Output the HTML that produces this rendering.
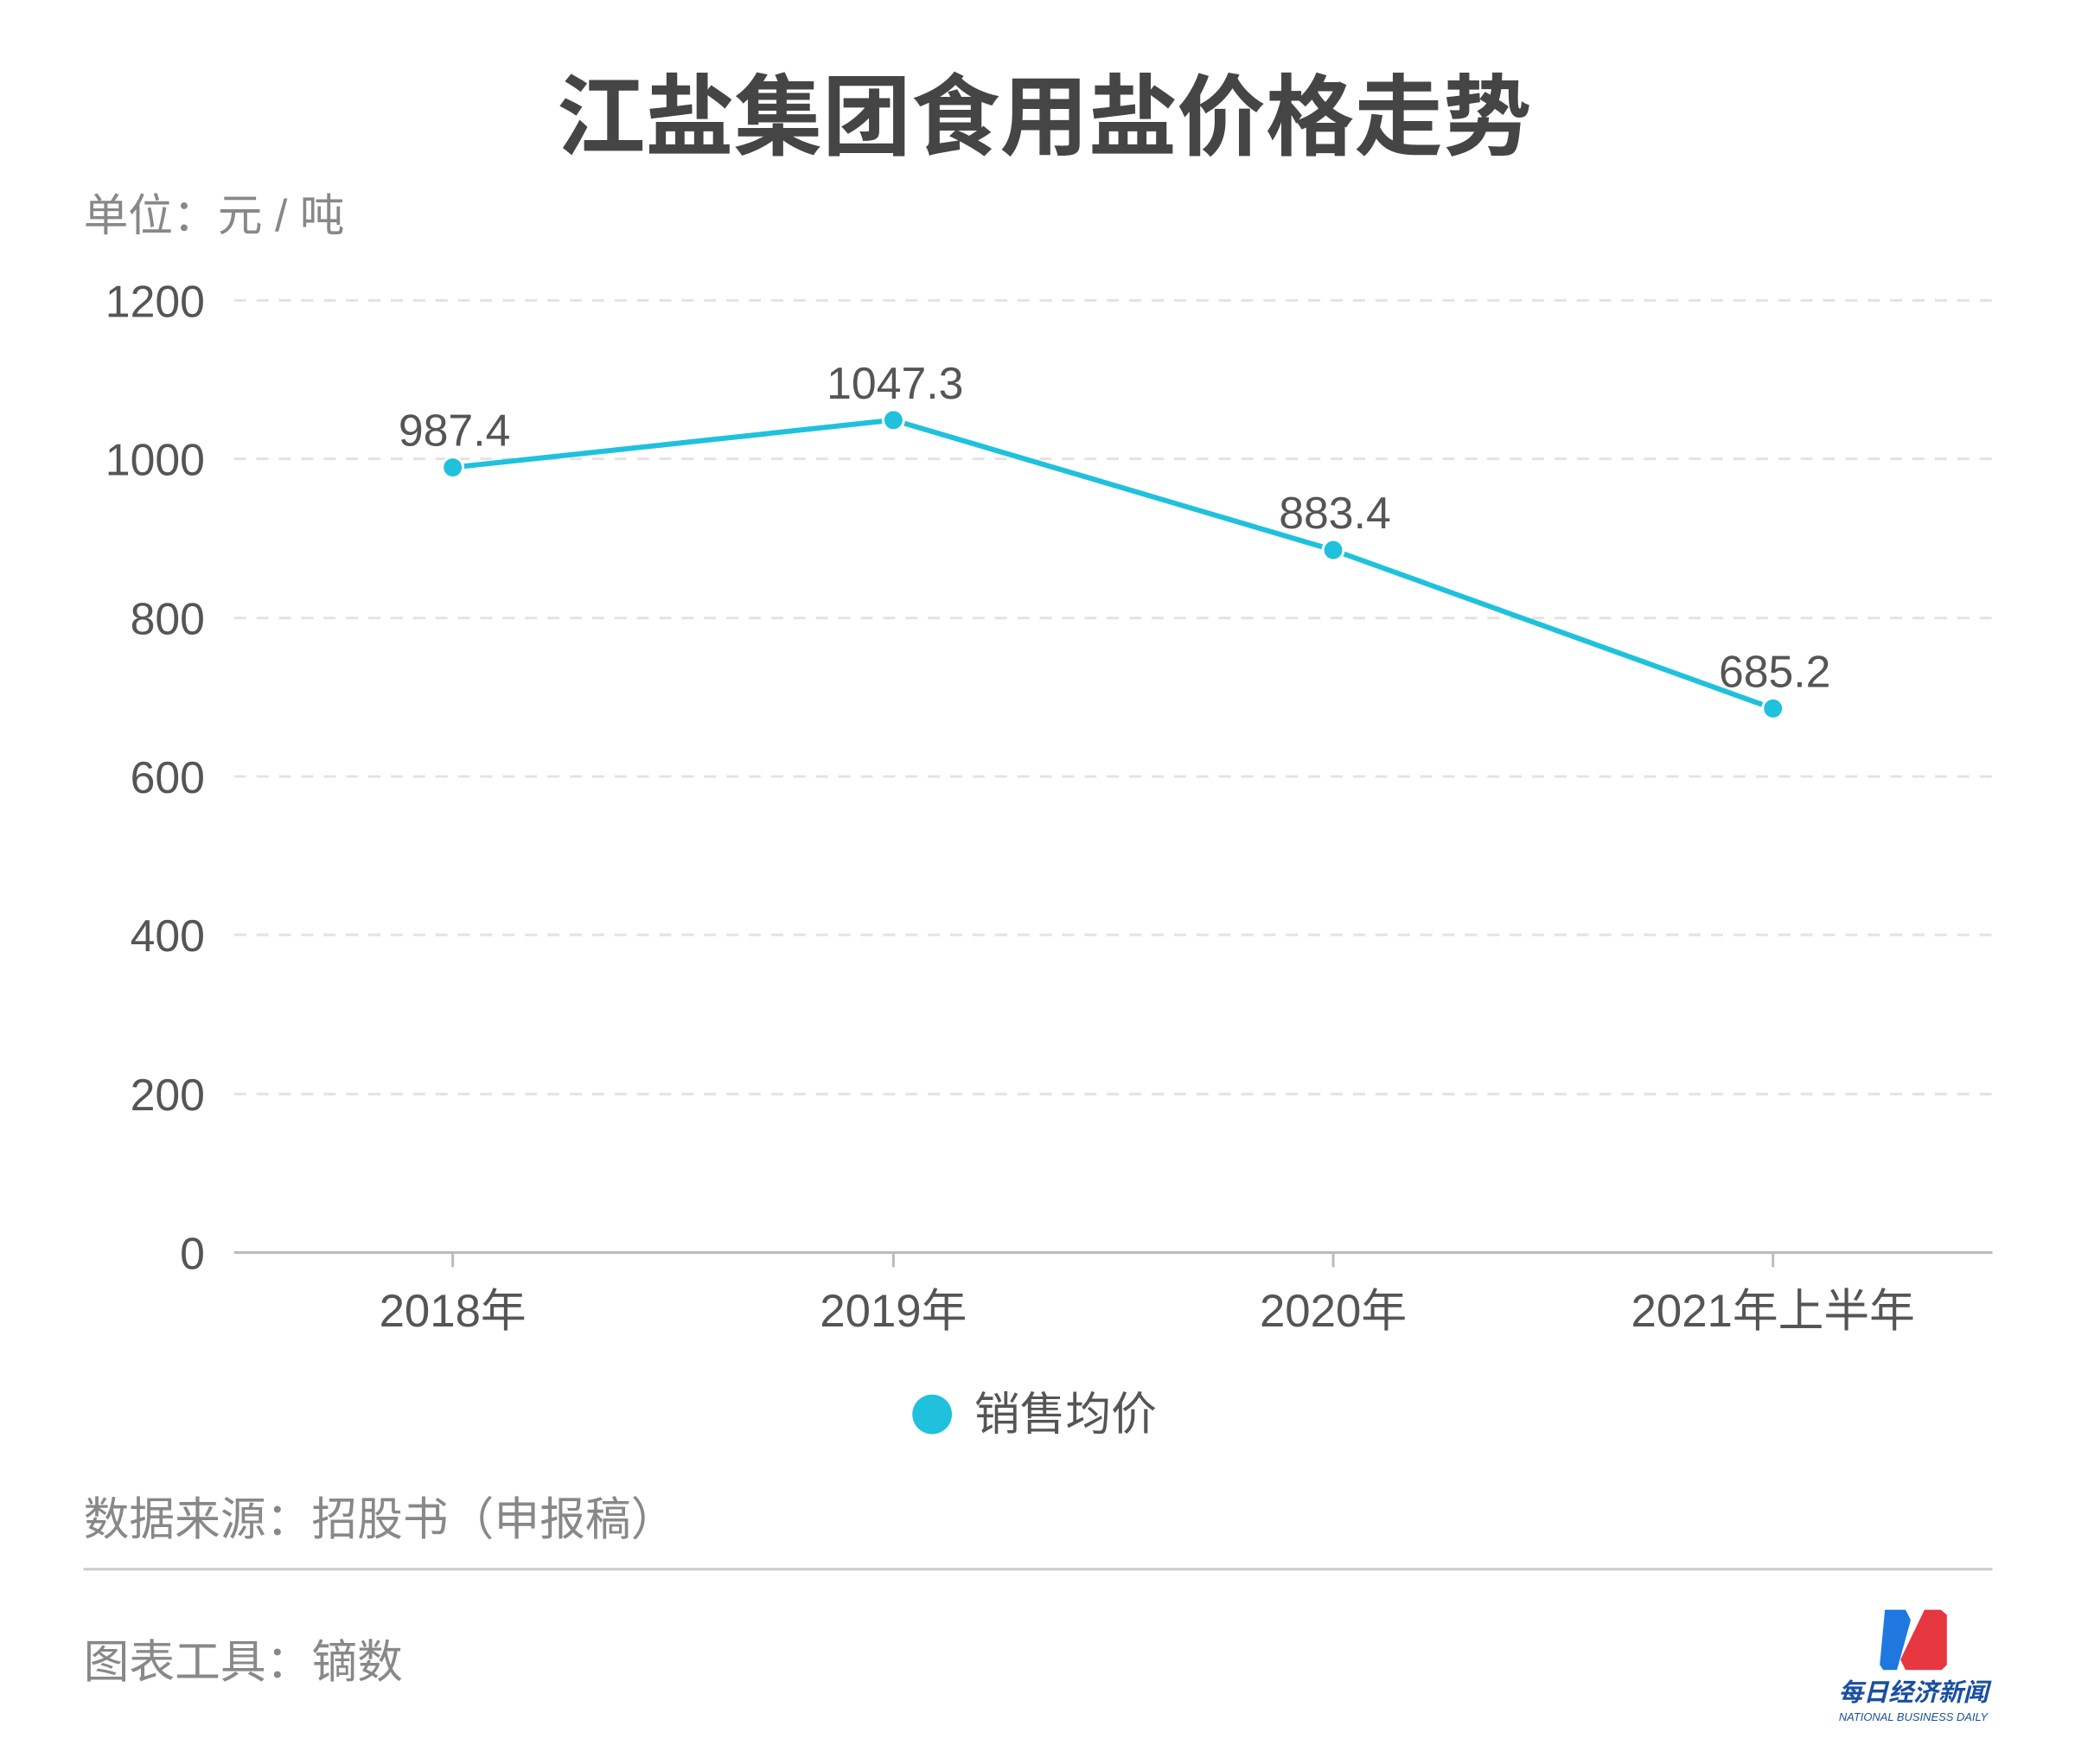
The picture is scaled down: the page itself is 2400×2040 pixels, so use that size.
<!DOCTYPE html>
<html><head><meta charset="utf-8"><style>
html,body{margin:0;padding:0;background:#fff;}
body{width:2400px;height:2040px;overflow:hidden;position:relative;font-family:"Liberation Sans","Noto Sans CJK SC",sans-serif;}
</style></head><body>
<svg width="2400" height="2040" viewBox="0 0 2400 2040" xmlns="http://www.w3.org/2000/svg" style="position:absolute;left:0;top:0">
<g font-family="Liberation Sans, Noto Sans CJK SC, sans-serif" transform="scale(0.9955)">
<text x="1213" y="172" text-anchor="middle" font-size="103" font-weight="bold" fill="#454545">江盐集团食用盐价格走势</text>
<text x="97" y="268" font-size="52" fill="#888">单位：元 / 吨</text>
<g stroke="#e3e3e3" stroke-width="3" stroke-dasharray="14,12">
<line x1="272" x2="2315" y1="349" y2="349"/>
<line x1="272" x2="2315" y1="533" y2="533"/>
<line x1="272" x2="2315" y1="718" y2="718"/>
<line x1="272" x2="2315" y1="902" y2="902"/>
<line x1="272" x2="2315" y1="1086" y2="1086"/>
<line x1="272" x2="2315" y1="1271" y2="1271"/>
</g>
<line x1="272" x2="2315" y1="1455" y2="1455" stroke="#bbb" stroke-width="3"/>
<g stroke="#bbb" stroke-width="3">
<line x1="526" x2="526" y1="1455" y2="1472"/><line x1="1038" x2="1038" y1="1455" y2="1472"/>
<line x1="1549" x2="1549" y1="1455" y2="1472"/><line x1="2060" x2="2060" y1="1455" y2="1472"/>
</g>
<g font-size="52" fill="#555" text-anchor="end">
<text x="238" y="368">1200</text><text x="238" y="552">1000</text><text x="238" y="737">800</text>
<text x="238" y="921">600</text><text x="238" y="1105">400</text><text x="238" y="1290">200</text><text x="238" y="1474">0</text>
</g>
<g font-size="53" fill="#555" text-anchor="middle">
<text x="526" y="1541">2018年</text><text x="1038" y="1541">2019年</text>
<text x="1549" y="1541">2020年</text><text x="2060" y="1541">2021年上半年</text>
</g>
<polyline points="526,543 1038,488 1549,639 2060,823" fill="none" stroke="#1fc1dc" stroke-width="6" stroke-linejoin="round"/>
<g fill="#1fc1dc" stroke="#fff" stroke-width="3">
<circle cx="526" cy="543" r="12"/><circle cx="1038" cy="488" r="12"/>
<circle cx="1549" cy="639" r="12"/><circle cx="2060" cy="823" r="12"/>
</g>
<g font-size="52" fill="#555" text-anchor="middle">
<text x="528" y="518">987.4</text><text x="1040" y="463">1047.3</text>
<text x="1551" y="614">883.4</text><text x="2062" y="798">685.2</text>
</g>
<circle cx="1083" cy="1643" r="23" fill="#1fc1dc"/>
<text x="1132" y="1661" font-size="53" fill="#555">销售均价</text>
<text x="97" y="1783" font-size="53" fill="#888">数据来源：招股书（申报稿）</text>
<line x1="97" x2="2315" y1="1823" y2="1823" stroke="#ccc" stroke-width="3"/>
<text x="97" y="1949" font-size="53" fill="#888">图表工具：镝数</text>
<path d="M2190,1870 L2214,1870 L2220,1882 L2204,1940 L2188,1940 L2184,1934 Z" fill="#1e78e0"/>
<path d="M2236,1870 L2255,1870 L2262,1876 L2262,1934 L2256,1940 L2214,1940 L2208,1928 Z" fill="#e63741"/>
<text x="2223" y="1976" text-anchor="middle" font-size="29" font-weight="bold" font-style="italic" fill="#1a4fa0">每日经济新闻</text>
<text x="2223" y="1999" text-anchor="middle" font-size="13" font-style="italic" fill="#1a4fa0">NATIONAL BUSINESS DAILY</text>
</g>
</svg>
</body></html>
